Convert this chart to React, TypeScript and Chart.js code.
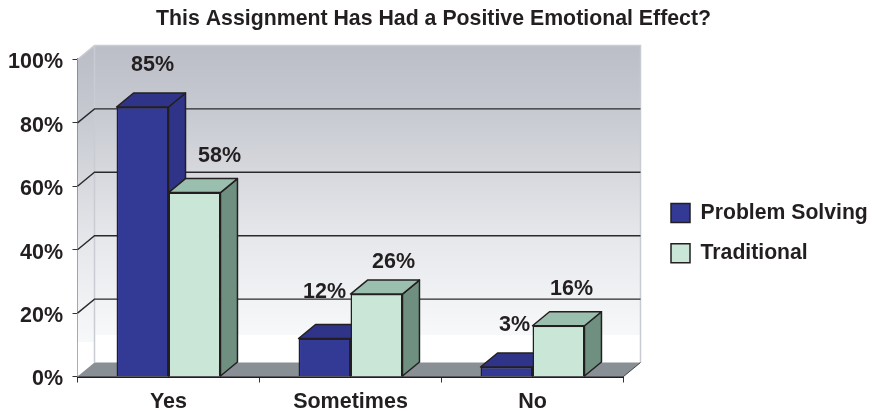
import React, { useEffect, useRef } from "react";
import { Chart, registerables } from "chart.js";

Chart.register(...registerables);

const categories = ["Yes", "Sometimes", "No"];
const problemSolving = [85, 12, 3];
const traditional = [58, 26, 16];
const titleText = "This Assignment Has Had a Positive Emotional Effect?";
const seriesNames = ["Problem Solving", "Traditional"];

const FONT = '"Liberation Sans", Arial, sans-serif';
const INK = "#231f20";
const DX = 17;
const DY = 14;
const faceColors = [
  { front: "#333a96", side: "#2f3488", top: "#2f3488" },
  { front: "#c9e6d6", side: "#6f9080", top: "#9abfae" },
];
// label shift relative to the top-centre of each bar: [dx, dy] per series, per category
const labelShift = [
  [[10, -42], [0, -46], [8, -42]],
  [[25, -37], [17, -32], [13, -37]],
];

function poly(ctx: CanvasRenderingContext2D, pts: number[][], fill?: string | CanvasGradient, stroke?: string, lw = 1.5) {
  ctx.beginPath();
  pts.forEach((p, i) => (i ? ctx.lineTo(p[0], p[1]) : ctx.moveTo(p[0], p[1])));
  ctx.closePath();
  if (fill) {
    ctx.fillStyle = fill;
    ctx.fill();
  }
  if (stroke) {
    ctx.strokeStyle = stroke;
    ctx.lineWidth = lw;
    ctx.lineJoin = "round";
    ctx.stroke();
  }
}

const depthPlugin = {
  id: "depth",
  beforeDatasetsDraw(chart: any) {
    const { ctx, chartArea: a, scales } = chart;
    const y = scales.y;
    ctx.save();
    const wallGrad = (shift: number) => {
      const top = y.getPixelForValue(100) - shift;
      const bot = y.getPixelForValue(0) - shift;
      const g = ctx.createLinearGradient(0, top, 0, bot);
      g.addColorStop(0, "#bbbec7");
      g.addColorStop(0.2, "#c6c9d0");
      g.addColorStop(0.6, "#e6e7eb");
      g.addColorStop(0.912, "#f7f8f9");
      g.addColorStop(0.912, "#ffffff");
      g.addColorStop(1, "#ffffff");
      return g;
    };
    // back wall
    poly(ctx, [
      [a.left + DX, a.top - DY],
      [a.right + DX, a.top - DY],
      [a.right + DX, a.bottom - DY],
      [a.left + DX, a.bottom - DY],
    ], wallGrad(DY));
    // left wall
    poly(ctx, [
      [a.left, a.top],
      [a.left + DX, a.top - DY],
      [a.left + DX, a.bottom - DY],
      [a.left, a.bottom],
    ], wallGrad(DY / 2));
    // wall edges
    ctx.strokeStyle = "#c9ccd2";
    ctx.lineWidth = 1.5;
    ctx.beginPath();
    ctx.moveTo(a.left, a.top);
    ctx.lineTo(a.left + DX, a.top - DY);
    ctx.lineTo(a.right + DX, a.top - DY);
    ctx.lineTo(a.right + DX, a.bottom - DY);
    ctx.moveTo(a.left + DX, a.top - DY);
    ctx.lineTo(a.left + DX, a.bottom - DY);
    ctx.stroke();
    // floor
    poly(ctx, [
      [a.left, a.bottom],
      [a.left + DX, a.bottom - DY],
      [a.right + DX, a.bottom - DY],
      [a.right, a.bottom],
    ], "#888f95");
    // grid on the walls
    ctx.strokeStyle = "#2a2a2c";
    ctx.lineWidth = 1.4;
    y.ticks.forEach((t: any) => {
      if (t.value <= 0 || t.value >= 100) return;
      const py = y.getPixelForValue(t.value);
      ctx.beginPath();
      ctx.moveTo(a.left, py);
      ctx.lineTo(a.left + DX, py - DY);
      ctx.lineTo(a.right + DX, py - DY);
      ctx.stroke();
    });
    // axis edge of the floor
    ctx.strokeStyle = "#444";
    ctx.lineWidth = 1;
    ctx.beginPath();
    ctx.moveTo(a.right, a.bottom);
    ctx.lineTo(a.right + DX, a.bottom - DY);
    ctx.stroke();
    // side and top faces of the bars
    chart.data.datasets.forEach((_: any, di: number) => {
      chart.getDatasetMeta(di).data.forEach((bar: any) => {
        const half = bar.width / 2;
        const l = bar.x - half;
        const r = bar.x + half;
        const top = bar.y;
        const base = bar.base;
        poly(ctx, [[r, top], [r + DX, top - DY], [r + DX, base - DY], [r, base]], faceColors[di].side, "#231f20");
        poly(ctx, [[l, top], [l + DX, top - DY], [r + DX, top - DY], [r, top]], faceColors[di].top, "#231f20");
      });
    });
    ctx.restore();
  },
  afterDatasetsDraw(chart: any) {
    const { ctx } = chart;
    ctx.save();
    ctx.font = `bold 21.5px ${FONT}`;
    ctx.fillStyle = INK;
    ctx.textAlign = "center";
    ctx.textBaseline = "middle";
    chart.data.datasets.forEach((ds: any, di: number) => {
      chart.getDatasetMeta(di).data.forEach((bar: any, i: number) => {
        const [sx, sy] = labelShift[di][i];
        ctx.fillText(`${ds.data[i]}%`, bar.x + sx, bar.y + sy);
      });
    });
    ctx.restore();
  },
};

export default function App() {
  const ref = useRef<HTMLCanvasElement>(null);
  useEffect(() => {
    if (!ref.current) return;
    const chart = new Chart(ref.current, {
      type: "bar",
      data: {
        labels: categories,
        datasets: [
          {
            label: seriesNames[0],
            data: problemSolving,
            backgroundColor: faceColors[0].front,
            borderColor: "#231f20",
            borderWidth: 1.5,
            categoryPercentage: 0.571,
            barPercentage: 1,
          },
          {
            label: seriesNames[1],
            data: traditional,
            backgroundColor: faceColors[1].front,
            borderColor: "#231f20",
            borderWidth: 1.5,
            categoryPercentage: 0.571,
            barPercentage: 1,
          },
        ],
      },
      options: {
        responsive: false,
        animation: false,
        layout: { padding: { top: 6, right: 7, left: 0, bottom: 0 } },
        plugins: {
          tooltip: { enabled: false },
          title: {
            display: true,
            text: titleText,
            color: INK,
            font: { family: FONT, size: 21.3, weight: "bold" },
            padding: { top: 0, bottom: 27.9 },
          },
          legend: {
            position: "right",
            maxWidth: 215,
            title: { display: true, text: " ", font: { family: FONT, size: 21 }, padding: 12 },
            labels: {
              color: INK,
              font: { family: FONT, size: 21.2, weight: "bold" },
              boxWidth: 19,
              boxHeight: 19,
              padding: 19,
            },
          },
        },
        scales: {
          x: {
            stacked: false,
            afterFit: (s: any) => {
              s.height = 34.5;
            },
            border: { color: "#231f20", width: 2 },
            grid: { drawOnChartArea: false, color: "#333", tickLength: 6, offset: true },
            ticks: {
              color: INK,
              padding: 7,
              font: { family: FONT, size: 21.5, weight: "bold" },
            },
          },
          y: {
            min: 0,
            max: 100,
            afterFit: (s: any) => {
              s.width = 77.5;
            },
            border: { color: "#5a5a5c", width: 2 },
            grid: { drawOnChartArea: false, color: "#333", tickLength: 5 },
            ticks: {
              stepSize: 20,
              color: INK,
              padding: 9.5,
              labelOffset: 3,
              font: { family: FONT, size: 21.5, weight: "bold" },
              callback: (v: any) => `${v}%`,
            },
          },
          spacer: {
            type: "linear",
            position: "right",
            display: true,
            grid: { display: false },
            border: { display: false },
            ticks: { display: false },
            afterFit: (s: any) => {
              s.width = 867 - (s.chart.legend?.width ?? 0) - 623.5;
            },
          },
        },
      },
      plugins: [depthPlugin],
    } as any);
    return () => chart.destroy();
  }, []);
  return (
    <canvas
      ref={ref}
      width={874}
      height={411}
      style={{ position: "absolute", left: 0, top: 0, display: "block" }}
    />
  );
}
